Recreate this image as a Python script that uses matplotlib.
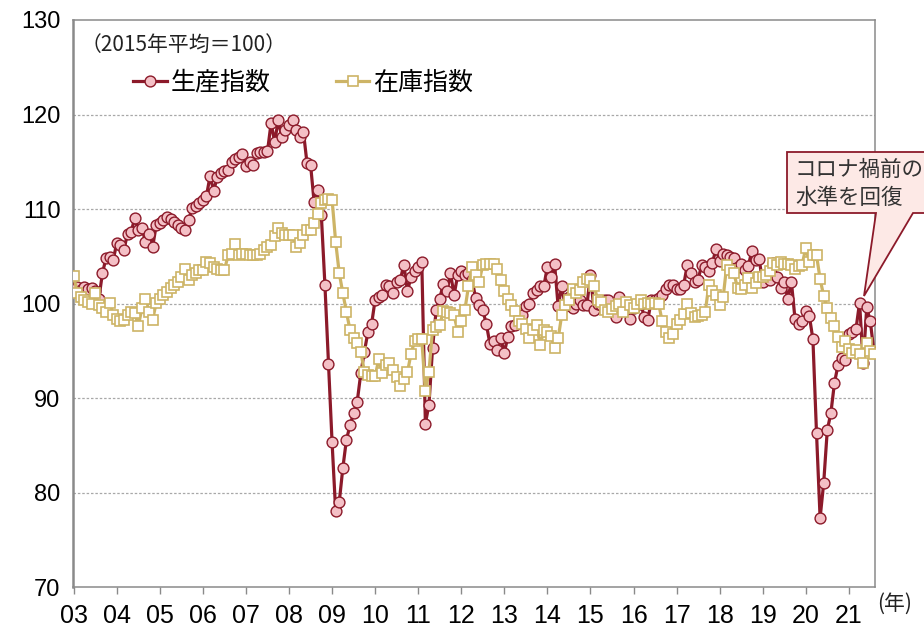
import numpy as np
import matplotlib
matplotlib.use("Agg")
import matplotlib.pyplot as plt
from matplotlib.patches import Polygon

plt.rcParams['font.family'] = ['Noto Sans CJK JP', 'DejaVu Sans']

# 鉱工業指数 (2015年平均=100), monthly, 2003/01 - 2021/08
production = [
    101.6, 101.7, 101.4, 101.7, 101.5, 101.6, 101.3, 100.5, 103.2, 104.8, 104.9, 104.6,  # 03
    106.4, 106.2, 105.7, 107.4, 107.6, 109.0, 107.8, 108.0, 106.5, 107.4, 106.0, 108.3,  # 04
    108.5, 108.8, 109.2, 108.9, 108.6, 108.3, 108.0, 107.8, 108.8, 110.1, 110.3, 110.6,  # 05
    111.0, 111.4, 113.5, 111.9, 113.4, 113.8, 114.0, 114.1, 115.0, 115.3, 115.5, 115.8,  # 06
    114.5, 115.0, 114.7, 115.9, 116.0, 116.0, 116.1, 119.1, 117.1, 119.4, 117.6, 118.4,  # 07
    118.9, 119.4, 118.4, 117.6, 118.2, 114.9, 114.7, 110.7, 112.0, 109.4, 102.0, 93.6,   # 08
    85.3, 78.0, 79.0, 82.6, 85.6, 87.1, 88.4, 89.6, 92.6, 94.9, 97.0, 97.8,              # 09
    100.4, 100.7, 100.9, 102.0, 101.8, 101.1, 102.3, 102.5, 104.1, 101.3, 102.8, 103.4,  # 10
    103.9, 104.4, 87.3, 89.3, 95.3, 99.3, 100.5, 102.1, 101.3, 103.2, 100.9, 103.0,      # 11
    103.4, 103.0, 103.2, 102.5, 100.6, 99.8, 99.3, 97.8, 95.7, 96.0, 95.1, 96.3,         # 12
    94.8, 96.5, 97.6, 97.7, 98.3, 98.8, 99.7, 99.9, 101.1, 101.4, 101.8, 101.8,          # 13
    103.9, 102.8, 104.2, 99.7, 101.8, 99.7, 100.7, 99.5, 100.0, 100.4, 99.8, 99.8,       # 14
    103.0, 99.3, 99.9, 99.8, 100.4, 100.4, 99.3, 98.6, 100.7, 99.9, 99.2, 98.4,          # 15
    99.5, 100.0, 100.0, 98.6, 98.3, 100.4, 100.4, 100.6, 100.9, 101.5, 102.0, 102.0,     # 16
    101.5, 101.5, 102.0, 104.1, 103.2, 102.3, 102.5, 104.1, 103.9, 103.4, 104.3, 105.8,  # 17
    104.5, 105.2, 105.1, 104.9, 104.8, 103.9, 104.2, 103.5, 104.0, 105.6, 104.6, 104.7,  # 18
    102.3, 103.0, 102.5, 104.3, 102.8, 101.6, 102.3, 100.5, 102.3, 98.4, 97.8, 98.1,     # 19
    99.2, 98.7, 96.2, 86.3, 77.3, 81.0, 86.6, 88.4, 91.6, 93.5, 94.2, 94.0,              # 20
    96.8, 97.0, 97.3, 100.1, 93.7, 99.6, 98.1, 94.9,                                     # 21
]
inventory = [
    102.9, 101.1, 100.7, 100.4, 100.2, 100.0, 101.1, 99.8, 99.5, 99.1, 100.1, 98.8,      # 03
    98.4, 98.1, 98.3, 98.8, 99.1, 99.0, 97.6, 99.5, 100.5, 99.1, 98.3, 100.1,            # 04
    100.5, 100.9, 101.2, 101.6, 102.0, 102.3, 102.8, 103.7, 102.5, 103.0, 103.2, 103.5,  # 05
    103.5, 104.4, 104.3, 103.9, 103.6, 103.5, 103.5, 105.1, 105.2, 106.3, 105.1, 105.2,  # 06
    105.2, 105.1, 105.1, 105.1, 105.2, 105.7, 106.0, 106.2, 107.1, 108.0, 107.5, 107.2,  # 07
    107.2, 107.2, 106.0, 106.4, 107.2, 107.8, 107.8, 108.5, 109.5, 110.6, 110.9, 111.1,  # 08
    111.0, 106.5, 103.2, 101.1, 99.1, 97.2, 96.3, 95.8, 94.9, 92.8, 92.4, 92.3,          # 09
    92.3, 94.1, 92.6, 93.5, 93.7, 93.0, 92.2, 91.3, 92.0, 92.7, 94.7, 96.0,              # 10
    96.2, 96.2, 90.7, 92.8, 97.2, 97.5, 97.7, 99.2, 99.1, 99.0, 98.8, 97.0,              # 11
    98.1, 99.3, 101.8, 103.9, 103.0, 102.3, 104.1, 104.2, 104.2, 104.2, 103.7, 102.5,    # 12
    101.3, 100.5, 99.8, 99.2, 98.2, 97.8, 97.3, 96.3, 97.2, 97.7, 95.6, 97.2,            # 13
    97.0, 96.6, 95.3, 96.3, 98.8, 99.8, 100.4, 101.5, 101.1, 101.4, 102.3, 102.6,        # 14
    102.5, 101.9, 100.4, 100.2, 99.3, 99.1, 99.4, 99.7, 99.9, 99.1, 100.2, 99.8,         # 15
    99.5, 100.0, 100.4, 100.0, 100.1, 100.0, 100.1, 100.0, 98.1, 97.0, 96.4, 96.8,       # 16
    97.8, 98.3, 98.9, 100.0, 99.0, 98.6, 98.7, 98.8, 99.1, 102.0, 101.3, 100.9,          # 17
    99.8, 100.7, 104.1, 103.5, 103.2, 101.6, 101.5, 102.0, 102.7, 101.6, 102.2, 102.8,   # 18
    102.8, 103.0, 103.4, 104.3, 104.1, 104.4, 104.2, 104.2, 104.1, 103.6, 104.0, 104.1,  # 19
    105.9, 104.4, 105.1, 105.1, 102.6, 100.8, 99.5, 98.5, 97.6, 96.5, 95.4, 96.0,        # 20
    95.2, 94.8, 95.1, 94.7, 93.7, 95.8, 95.0, 94.7,                                      # 21
]
year_labels = ["03", "04", "05", "06", "07", "08", "09", "10", "11", "12",
               "13", "14", "15", "16", "17", "18", "19", "20", "21"]
y_ticks = [70, 80, 90, 100, 110, 120, 130]

PROD_LINE = "#8C1A2A"
PROD_FACE = "#F4C0C6"
INV_LINE = "#CDB466"
FRAME = "#8A8A8A"
TICK_FONT = ["Liberation Sans Narrow", "Liberation Sans"]

W, H = 924, 629
months = np.arange(len(production))

fig = plt.figure(figsize=(W / 100, H / 100), dpi=100)
ax = fig.add_axes([73 / W, 1 - 587 / H, (875 - 73) / W, (587 - 20) / H])

ax.plot(months, production, color=PROD_LINE, lw=2.3, marker="o", ms=7.8,
        mfc=PROD_FACE, mec=PROD_LINE, mew=1.0, label="生産指数", zorder=3)
ax.plot(months, inventory, color=INV_LINE, lw=2.3, marker="s", ms=7.0,
        mfc="white", mec=INV_LINE, mew=1.2, label="在庫指数", zorder=4)

ax.set_xlim(-0.2, 223.3)
ax.set_ylim(70, 130)
ax.set_xticks(np.arange(len(year_labels)) * 12)
ax.set_xticklabels(year_labels, family=TICK_FONT, fontsize=18)
ax.set_yticks(y_ticks)
ax.set_yticklabels([str(v) for v in y_ticks], family=TICK_FONT, fontsize=17)
ax.tick_params(axis="x", direction="out", length=5, width=1, color=FRAME, pad=7)
ax.tick_params(axis="y", length=0, pad=9)

for y in y_ticks[1:-1]:
    ax.axhline(y, color="#A8A8A8", lw=0.9, ls=(0, (2, 1.5)), zorder=1)
for side in ax.spines.values():
    side.set_color(FRAME)
    side.set_linewidth(1.1)
ax.spines["left"].set_linewidth(1.8)

ax.text(0.009, 0.956, "（2015年平均＝100）", transform=ax.transAxes,
        fontsize=15, va="center", ha="left", color="#222222")

leg = ax.legend(loc="center left", bbox_to_anchor=(0.075, 0.89), ncol=2,
                frameon=False, fontsize=18, handlelength=1.35,
                handletextpad=0.15, columnspacing=2.6, borderpad=0,
                borderaxespad=0, numpoints=1)

fig.text(877 / W, 1 - 604 / H, "(年)", fontsize=15, ha="left", va="center",
         color="#222222")

# callout
callout = [(787, 152), (930, 152), (930, 213), (913, 213), (864, 296),
           (876, 213), (787, 213)]
poly = Polygon([(x / W, 1 - y / H) for x, y in callout], closed=True,
               transform=fig.transFigure, facecolor="#FDE9E6",
               edgecolor=PROD_LINE, lw=1.3, zorder=10)
fig.patches.append(poly)
fig.text(795 / W, 1 - 170 / H, "コロナ禍前の", fontsize=15.5, ha="left",
         va="center", color="#333333", zorder=11)
fig.text(795 / W, 1 - 198 / H, "水準を回復", fontsize=15.5, ha="left",
         va="center", color="#333333", zorder=11)

fig.savefig("out.png", dpi=100)
